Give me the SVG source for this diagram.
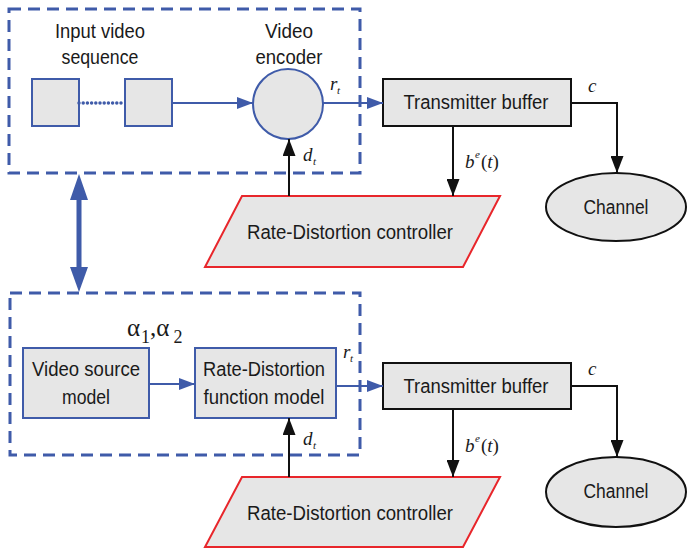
<svg xmlns="http://www.w3.org/2000/svg" width="687" height="549" viewBox="0 0 687 549">
<style>
.t{font-family:"Liberation Sans",Arial,sans-serif;font-size:20px;fill:#1a1a1a;text-anchor:middle}
.m{font-family:"Liberation Serif","Times New Roman",serif;font-style:italic;font-size:19px;fill:#1a1a1a}
.s{font-family:"Liberation Serif","Times New Roman",serif;font-style:italic;font-size:11px;fill:#1a1a1a}
.g{font-family:"Liberation Serif","Times New Roman",serif;font-size:25px;fill:#1a1a1a}
.gs{font-size:18px}
.bb{fill:#e6e6e6;stroke:#3F5BA9;stroke-width:2}
.kb{fill:#e6e6e6;stroke:#111;stroke-width:2}
.rp{fill:#e6e6e6;stroke:#e8262b;stroke-width:2}
.dash{fill:none;stroke:#3F5BA9;stroke-width:3;stroke-dasharray:12 7}
.bl{fill:none;stroke:#3F5BA9;stroke-width:2}
.kl{fill:none;stroke:#111;stroke-width:2}
</style>
<defs>
<marker id="ab" markerUnits="userSpaceOnUse" markerWidth="16" markerHeight="12" refX="16" refY="6" orient="auto"><path d="M0,0 L16,6 L0,12 Z" fill="#3F5BA9"/></marker>
<marker id="ak" markerUnits="userSpaceOnUse" markerWidth="17" markerHeight="13" refX="17" refY="6.5" orient="auto"><path d="M0,0 L17,6.5 L0,13 Z" fill="#111"/></marker>
</defs>

<g id="frame-top"><rect class="dash" x="9" y="9" width="351" height="164"/></g>
<g id="frame-bottom"><rect class="dash" x="10" y="293" width="350" height="162"/></g>

<g id="input-seq">
<rect class="bb" x="32" y="79" width="47" height="47"/>
<rect class="bb" x="125" y="79" width="47" height="47"/>
<text class="t" x="100" y="38" textLength="90" lengthAdjust="spacingAndGlyphs">Input video</text>
<text class="t" x="100" y="64" textLength="77" lengthAdjust="spacingAndGlyphs">sequence</text>
</g>

<g id="video-encoder">
<circle class="bb" cx="288" cy="104" r="35"/>
<text class="t" x="289" y="38" textLength="48" lengthAdjust="spacingAndGlyphs">Video</text>
<text class="t" x="289" y="64" textLength="67" lengthAdjust="spacingAndGlyphs">encoder</text>
</g>

<g id="buffer-top">
<rect class="kb" x="383" y="79" width="188" height="47"/>
<text class="t" x="476" y="109" textLength="145" lengthAdjust="spacingAndGlyphs">Transmitter buffer</text>
</g>

<g id="channel-top">
<ellipse class="kb" cx="616" cy="207" rx="70" ry="34"/>
<text class="t" x="616" y="214" textLength="65" lengthAdjust="spacingAndGlyphs">Channel</text>
</g>

<g id="controller-top">
<path class="rp" d="M242,196 L500,196 L463,267 L205,267 Z"/>
<text class="t" x="350" y="239" textLength="206" lengthAdjust="spacingAndGlyphs">Rate-Distortion controller</text>
</g>

<g id="source-model">
<rect class="bb" x="23" y="348" width="126" height="70"/>
<text class="t" x="86" y="376" textLength="108" lengthAdjust="spacingAndGlyphs">Video source</text>
<text class="t" x="86" y="404" textLength="48" lengthAdjust="spacingAndGlyphs">model</text>
</g>

<g id="rd-model">
<rect class="bb" x="195" y="348" width="141" height="70"/>
<text class="t" x="264" y="376" textLength="122" lengthAdjust="spacingAndGlyphs">Rate-Distortion</text>
<text class="t" x="264" y="404" textLength="121" lengthAdjust="spacingAndGlyphs">function model</text>
</g>

<g id="buffer-bottom">
<rect class="kb" x="383" y="363" width="188" height="46"/>
<text class="t" x="476" y="393" textLength="145" lengthAdjust="spacingAndGlyphs">Transmitter buffer</text>
</g>

<g id="channel-bottom">
<ellipse class="kb" cx="616" cy="492" rx="70" ry="35"/>
<text class="t" x="616" y="498" textLength="65" lengthAdjust="spacingAndGlyphs">Channel</text>
</g>

<g id="controller-bottom">
<path class="rp" d="M242,477 L500,477 L463,547 L205,547 Z"/>
<text class="t" x="350" y="520" textLength="206" lengthAdjust="spacingAndGlyphs">Rate-Distortion controller</text>
</g>

<g id="connectors">
<path d="M79,103 H125" fill="none" stroke="#3F5BA9" stroke-width="3.5" stroke-linecap="round" stroke-dasharray="0 4.2"/>
<path class="bl" d="M172,103 H253" marker-end="url(#ab)"/>
<path class="bl" d="M323,103 H383" marker-end="url(#ab)"/>
<path class="kl" d="M571,103 H617 V173" marker-end="url(#ak)"/>
<path class="kl" d="M453,126 V196" marker-end="url(#ak)"/>
<path class="kl" d="M289,196 V139" marker-end="url(#ak)"/>
<path class="bl" d="M149,384 H195" marker-end="url(#ab)"/>
<path class="bl" d="M336,386 H383" marker-end="url(#ab)"/>
<path class="kl" d="M571,386 H617 V457" marker-end="url(#ak)"/>
<path class="kl" d="M453,409 V477" marker-end="url(#ak)"/>
<path class="kl" d="M289,477 V418" marker-end="url(#ak)"/>
<g id="link">
<rect x="76.5" y="198" width="5" height="71" fill="#3F5BA9"/>
<path d="M79,174 L88,200 L70,200 Z" fill="#3F5BA9"/>
<path d="M79,292 L88,267 L70,267 Z" fill="#3F5BA9"/>
</g>
</g>

<g id="labels">
<text class="m" x="330" y="90">r</text><text class="s" x="337" y="94">t</text>
<text class="m" x="303" y="161">d</text><text class="s" x="313" y="165">t</text>
<text class="m" x="588" y="92">c</text>
<text class="m" x="465" y="168">b</text><text class="s" x="475" y="158">e</text><text x="481" y="168" style="font-family:'Liberation Serif',serif;font-size:19px;fill:#1a1a1a">(<tspan font-style="italic">t</tspan>)</text>
<text class="m" x="343" y="358">r</text><text class="s" x="350" y="362">t</text>
<text class="m" x="303" y="445">d</text><text class="s" x="313" y="449">t</text>
<text class="m" x="588" y="375">c</text>
<text class="m" x="465" y="452">b</text><text class="s" x="475" y="442">e</text><text x="481" y="452" style="font-family:'Liberation Serif',serif;font-size:19px;fill:#1a1a1a">(<tspan font-style="italic">t</tspan>)</text>
<text class="g" x="127" y="336">α<tspan class="gs" dx="1" dy="7">1</tspan><tspan dy="-7">,α</tspan><tspan class="gs" dx="4" dy="7">2</tspan></text>
</g>
</svg>
